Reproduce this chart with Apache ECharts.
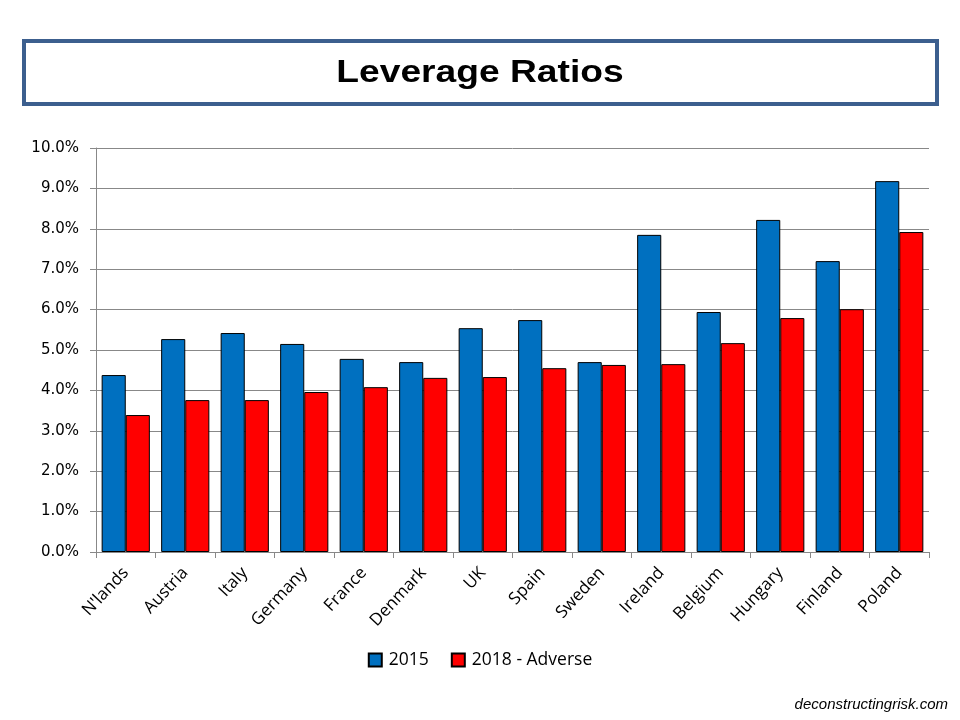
<!DOCTYPE html>
<html>
<head>
<meta charset="utf-8">
<script src="https://cdn.jsdelivr.net/npm/echarts@6/dist/echarts.min.js"></script>
<style>html,body{margin:0;padding:0;background:#fff;}#c{width:960px;height:720px;}</style>
</head>
<body>
<div id="c"></div>
<script>
const categories = ["N'lands","Austria","Italy","Germany","France","Denmark","UK","Spain","Sweden","Ireland","Belgium","Hungary","Finland","Poland"];
const series2015 = [4.38,5.27,5.42,5.15,4.78,4.70,5.54,5.74,4.70,7.85,5.94,8.22,7.20,9.18];
const series2018 = [3.39,3.76,3.76,3.96,4.08,4.31,4.33,4.55,4.63,4.65,5.17,5.79,6.01,7.92];
const yTicks = [0,1,2,3,4,5,6,7,8,9,10];

const chart = echarts.init(document.getElementById('c'), null, {renderer:'canvas'});
chart.setOption({
  backgroundColor:'#fff',
  animation:false,
  graphic:[
    {type:'rect', shape:{x:24, y:41, width:913, height:63}, style:{fill:'none', stroke:'#3c5f8e', lineWidth:4}},
    {type:'text', x:480, y:73, scaleX:1.2, style:{x:0, y:0, text:'Leverage Ratios', align:'center', verticalAlign:'middle', font:'bold 31px "Liberation Sans"', fill:'#000'}},
    {type:'text', right:12, top:697, style:{text:'deconstructingrisk.com', font:'italic 15px "Liberation Sans"', fill:'#000'}}
  ],
  legend:{
    data:['2015','2018 - Adverse'], left:'center', top:646, icon:'rect', itemWidth:13, itemHeight:13, itemGap:22,
    textStyle:{fontFamily:'Open Sans', fontSize:17.5, color:'#000', padding:[0,0,0,2]}
  },
  grid:{left:96, right:31, top:148, bottom:168, containLabel:false},
  xAxis:{
    type:'category', data:categories,
    axisLine:{lineStyle:{color:'#888', width:1}},
    axisTick:{show:true, length:6, lineStyle:{color:'#888'}, alignWithLabel:false},
    axisLabel:{rotate:47, fontFamily:'Open Sans', fontSize:17, color:'#000', margin:18, interval:0}
  },
  yAxis:{
    type:'value', min:0, max:10, interval:1,
    axisLine:{show:true, lineStyle:{color:'#888', width:1}},
    axisTick:{show:true, length:6, lineStyle:{color:'#888'}},
    splitLine:{lineStyle:{color:'#888', width:1}},
    axisLabel:{formatter:v => v.toFixed(1)+'%', fontFamily:'DejaVu Sans', fontSize:15, color:'#000', margin:17}
  },
  series:[
    {name:'2015', type:'bar', data:series2015, barGap:'0%', barCategoryGap:'19%',
     itemStyle:{color:'#0070c0', borderColor:'#000', borderWidth:1}},
    {name:'2018 - Adverse', type:'bar', data:series2018,
     itemStyle:{color:'#ff0000', borderColor:'#000', borderWidth:1}}
  ]
});
</script>
</body>
</html>
